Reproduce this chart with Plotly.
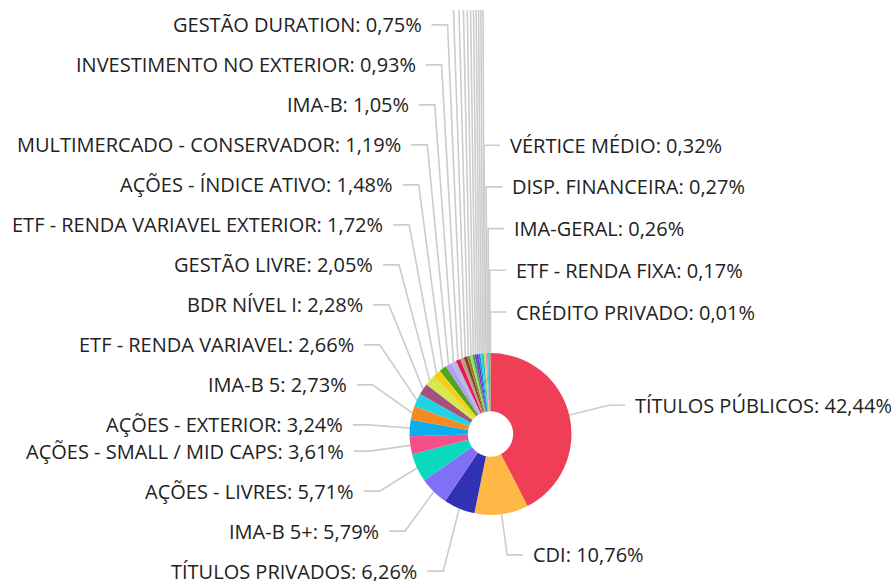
import math
import plotly.graph_objects as go

# ---------------- data ----------------
categories = [
    "TÍTULOS PÚBLICOS", "CDI", "TÍTULOS PRIVADOS", "IMA-B 5+", "AÇÕES - LIVRES",
    "AÇÕES - SMALL / MID CAPS", "AÇÕES - EXTERIOR", "IMA-B 5", "ETF - RENDA VARIAVEL",
    "BDR NÍVEL I", "GESTÃO LIVRE", "ETF - RENDA VARIAVEL EXTERIOR", "AÇÕES - ÍNDICE ATIVO",
    "MULTIMERCADO - CONSERVADOR", "IMA-B", "INVESTIMENTO NO EXTERIOR", "GESTÃO DURATION",
    # slices whose labels fall outside the visible area (names not readable)
    None, None, None, None, None, None, None, None, None, None,
    "VÉRTICE MÉDIO", "DISP. FINANCEIRA", "IMA-GERAL", "ETF - RENDA FIXA", "CRÉDITO PRIVADO",
]
shares = [
    42.44, 10.76, 6.26, 5.79, 5.71,
    3.61, 3.24, 2.73, 2.66,
    2.28, 2.05, 1.72, 1.48,
    1.19, 1.05, 0.93, 0.75,
    0.66, 0.57, 0.50, 0.45, 0.41, 0.38, 0.36, 0.34, 0.33, 0.32,
    0.32, 0.27, 0.26, 0.17, 0.01,
]
colors = [
    "#EF3E55", "#FFB845", "#3131B3", "#8170F6", "#0BD9BE",
    "#F5508A", "#0AAEEF", "#F58A20", "#22D3E4",
    "#A4517F", "#D6E84F", "#F5D01A", "#4EA51F",
    "#B59DF7", "#AFBFDC", "#E8175D", "#C49A84",
    "#7A4A1E", "#9C7A3C", "#96E06A", "#2EB82E", "#8E2FD8", "#4B3CD6", "#1E88E5",
    "#1DD3D9", "#19C29B", "#B6E35A",
    "#FF8FB8", "#40C4FF", "#00BFA5", "#7CB342", "#FF7043",
]

# ---------------- layout constants ----------------
W, H = 891, 581
CX, CY, R = 490.5, 434.0, 81.0
HOLE = 0.28
LEN1 = 41.0      # radial part of the leader line
LEN2 = 16.0      # horizontal part of the leader line
GAP = 8.0        # distance between line end and text
STEP = {"left": 40.0, "right": 41.7}   # minimum vertical distance between labels
TOP_CLIP = 10.0
RIGHT_WRAP = 3.5  # slices this close before 12 o'clock are labelled on the right
FONT_SIZE = 20

fmt = lambda v: f"{v:.2f}".replace(".", ",") + "%"

# ---------------- label placement ----------------
total = sum(shares)
items = []
cum = 0.0
for i, v in enumerate(shares):
    mid = (cum + v / 2.0) / total * 360.0
    cum += v
    ang = mid - 360.0 if mid > 360.0 - RIGHT_WRAP else mid
    side = "right" if ang < 180.0 else "left"
    t = math.radians(mid)
    sx, sy = math.sin(t), -math.cos(t)
    items.append(dict(
        i=i, ang=ang, side=side,
        p0=(CX + R * sx, CY + R * sy),
        ex=CX + (R + LEN1) * sx,
        ny=CY + (R + LEN1) * sy,
    ))

for side, horiz in (("right", 90.0), ("left", 270.0)):
    group = [it for it in items if it["side"] == side]
    if side == "right":
        up = [it for it in group if it["ang"] < 90.0]
        down = [it for it in group if it["ang"] >= 90.0]
    else:
        up = [it for it in group if it["ang"] > 270.0]
        down = [it for it in group if it["ang"] <= 270.0]
    up.sort(key=lambda it: abs(it["ang"] - horiz))
    down.sort(key=lambda it: abs(it["ang"] - horiz))
    step = STEP[side]
    prev = None
    for it in up:
        it["y"] = it["ny"] if prev is None else min(it["ny"], prev - step)
        prev = it["y"]
    prev = None
    for it in down:
        it["y"] = it["ny"] if prev is None else max(it["ny"], prev + step)
        prev = it["y"]

line_x, line_y = [], []
annotations = []
for it in items:
    d = 1 if it["side"] == "right" else -1
    x0, y0 = it["p0"]
    line_x += [x0, it["ex"], it["ex"] + d * LEN2, None]
    line_y += [y0, it["y"], it["y"], None]
    name = categories[it["i"]]
    if name is not None:
        annotations.append(dict(
            x=it["ex"] + d * (LEN2 + GAP), y=it["y"], xref="x", yref="y",
            text=f"{name}: {fmt(shares[it['i']])}",
            showarrow=False, xanchor="left" if d > 0 else "right", yanchor="middle",
            font=dict(family="Open Sans", size=FONT_SIZE, color="#222222"),
        ))

fig = go.Figure()
fig.add_trace(go.Scatter(
    x=line_x, y=line_y, mode="lines",
    line=dict(color="#cccccc", width=1.6),
    hoverinfo="skip", showlegend=False,
))
fig.add_trace(go.Pie(
    values=shares,
    marker=dict(colors=colors, line=dict(width=0)),
    hole=HOLE, sort=False, direction="clockwise", rotation=0,
    textinfo="none", hoverinfo="skip", showlegend=False,
    domain=dict(x=[(CX - R) / W, (CX + R) / W],
                y=[(H - CY - R) / H, (H - CY + R) / H]),
))
fig.update_layout(
    width=W, height=H,
    margin=dict(l=0, r=0, t=0, b=0),
    paper_bgcolor="white", plot_bgcolor="rgba(0,0,0,0)",
    xaxis=dict(range=[0, W], visible=False, fixedrange=True),
    yaxis=dict(range=[H, TOP_CLIP], domain=[0, (H - TOP_CLIP) / H],
               visible=False, fixedrange=True),
    annotations=annotations,
    font=dict(family="Open Sans"),
)
fig.write_html("out.html", config={"displayModeBar": False},
               post_script="document.body.style.margin='0';document.body.style.overflow='hidden';")
